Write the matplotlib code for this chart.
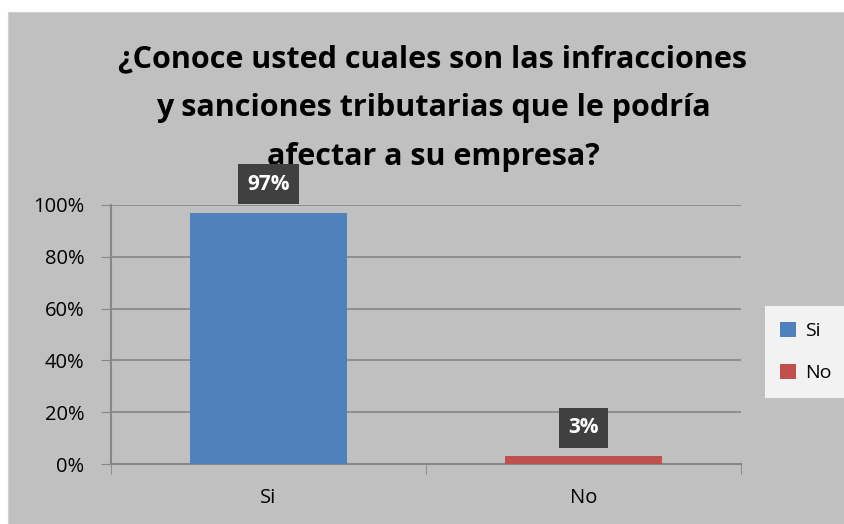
import matplotlib.pyplot as plt
from matplotlib.patches import Rectangle, Patch

categories = ["Si", "No"]
values = [0.97, 0.03]
labels = ["97%", "3%"]
colors = ["#4F81BD", "#C0504D"]
yticks = [0, 0.2, 0.4, 0.6, 0.8, 1.0]
ytick_labels = ["0%", "20%", "40%", "60%", "80%", "100%"]
title = ("¿Conoce usted cuales son las infracciones\n"
         "y sanciones tributarias que le podría\n"
         "afectar a su empresa?")

W, H = 844, 524
fig = plt.figure(figsize=(W / 100, H / 100), dpi=100)
fig.patch.set_facecolor("white")
fig.patches.append(Rectangle((8 / W, 0), 1 - 8 / W, 1 - 12 / H,
                             transform=fig.transFigure, facecolor="#C0C0C0",
                             edgecolor="#D0D0D0", lw=0.8, zorder=-10))

ax = fig.add_axes([111 / W, 1 - 464 / H, 630 / W, 259 / H])
ax.set_facecolor("none")
x = range(len(categories))
ax.bar(x, values, width=0.5, color=colors, zorder=3)
ax.set_xlim(-0.5, 1.5)
ax.set_ylim(0, 1)

ax.set_yticks(yticks)
ax.set_yticklabels(ytick_labels, fontsize=14.5, family="Open Sans")
ax.set_xticks(list(x))
ax.set_xticklabels(categories, fontsize=14.5, family="Open Sans")
ax.tick_params(axis="x", length=0, pad=17)
ax.tick_params(axis="y", length=7, color="#868686", pad=12)
ax.set_xticks([-0.5, 0.5, 1.5], minor=True)
ax.tick_params(axis="x", which="minor", length=7, color="#868686")
ax.grid(axis="y", color="#868686", lw=1.2, zorder=1)
for s in ["top", "right"]:
    ax.spines[s].set_visible(False)
for s in ["left", "bottom"]:
    ax.spines[s].set_color("#868686")
    ax.spines[s].set_linewidth(1.5)

# title drawn inside the axes so the data labels can sit on top of it
ax.text(433 / W, 1 - 108 / H, title, transform=fig.transFigure,
        ha="center", va="center", fontsize=22, fontweight="bold",
        family="Open Sans", linespacing=1.82, zorder=4, clip_on=False)

for xi, v, lab in zip(x, values, labels):
    ax.annotate(lab, (xi, v), xytext=(0, 20.5), textcoords="offset points",
                ha="center", va="center", color="white", fontsize=15,
                fontweight="bold", family="Open Sans", zorder=5,
                bbox=dict(boxstyle="square,pad=0.45", facecolor="#404040",
                          edgecolor="none"))

handles = [Patch(facecolor=c) for c in colors]
leg = fig.legend(handles, categories, loc="center", bbox_to_anchor=(806 / W, 1 - 352 / H),
                 frameon=True, fancybox=False, handlelength=0.8,
                 handleheight=0.8, handletextpad=0.5, labelspacing=1.25,
                 borderpad=0.8, prop={"family": "Open Sans", "size": 14})
leg.get_frame().set_facecolor("#F2F2F2")
leg.get_frame().set_edgecolor("none")
leg.get_frame().set_alpha(1)

fig.savefig("out.png", dpi=100)
